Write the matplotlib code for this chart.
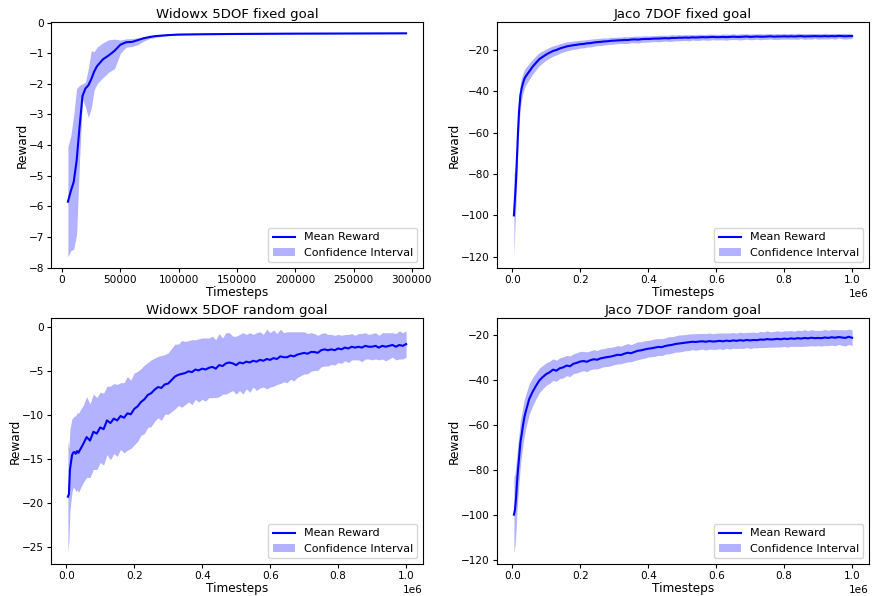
import matplotlib
matplotlib.use("Agg")
import matplotlib.pyplot as plt
import numpy as np

# ---------------- Widowx 5DOF fixed goal ----------------
wf_x = [5000, 7500, 10000, 12500, 15000, 17500, 20000, 22500, 25000, 27500,
        30000, 35000, 40000, 45000, 50000, 55000, 60000, 65000, 70000, 75000,
        80000, 90000, 100000, 120000, 150000, 200000, 250000, 295000]
wf_mean = [-5.85, -5.5, -5.2, -4.5, -3.4, -2.4, -2.15, -2.05, -1.85, -1.6,
           -1.42, -1.2, -1.07, -0.92, -0.72, -0.64, -0.63, -0.57, -0.51, -0.47,
           -0.44, -0.41, -0.39, -0.38, -0.37, -0.36, -0.355, -0.35]
wf_upper = [-4.05, -3.7, -3.0, -2.15, -2.05, -2.0, -1.95, -1.5, -0.92, -0.95,
            -0.8, -0.66, -0.56, -0.54, -0.57, -0.53, -0.52, -0.5, -0.47, -0.44,
            -0.42, -0.4, -0.38, -0.37, -0.36, -0.355, -0.35, -0.345]
wf_lower = [-7.65, -7.45, -7.4, -6.9, -4.5, -2.5, -2.75, -3.1, -2.8, -2.2,
            -2.0, -1.8, -1.62, -1.5, -1.0, -0.8, -0.78, -0.72, -0.6, -0.52,
            -0.48, -0.43, -0.4, -0.39, -0.38, -0.365, -0.36, -0.355]

# ---------------- shared timestep grid for 1e6 runs ----------------
early_x = [5000, 8000, 11000, 14000, 17000, 20000, 24000, 28000, 32000, 36000]
grid_x = early_x + list(range(40000, 1000001, 10000))

# ---------------- Jaco 7DOF fixed goal ----------------
jf_mean = [-100, -92, -84, -72, -60, -50, -42, -38.5, -36, -34,
           -32.8, -30.5, -28.2, -26.3, -24.5, -23.4, -22.3,
           -21.4, -20.6, -20.1, -19.4, -18.9, -18.4, -18.1, -17.8, -17.6, -17.3,
           -17.2, -16.9, -16.8, -16.5, -16.3, -16.2, -16.0, -15.9, -15.7, -15.6,
           -15.5, -15.4, -15.3, -15.3, -15.1, -15.0, -15.1, -14.9, -14.8, -14.8,
           -14.7, -14.6, -14.6, -14.5, -14.4, -14.5, -14.3, -14.3, -14.2, -14.2,
           -14.1, -14.2, -14.0, -14.1, -14.0, -13.9, -14.0, -13.9, -13.8, -13.9,
           -13.9, -13.8, -13.9, -13.8, -13.7, -13.8, -13.8, -13.7, -13.6, -13.8,
           -13.7, -13.6, -13.7, -13.7, -13.6, -13.5, -13.7, -13.6, -13.6, -13.5,
           -13.6, -13.5, -13.6, -13.5, -13.4, -13.6, -13.5, -13.5, -13.4, -13.5,
           -13.5, -13.4, -13.5, -13.4, -13.5, -13.3, -13.4, -13.5, -13.4, -13.4]
jf_hw = [20, 14, 11, 9, 7.5, 6.5, 5.8, 5.2, 4.8, 4.5,
         4.2, 3.9, 3.6, 3.4, 3.1, 2.9, 2.7,
         2.6, 2.5, 2.4, 2.3, 2.2, 2.2, 2.1, 2.0, 2.0, 1.9,
         1.9, 1.8, 1.9, 1.8, 1.7, 1.8, 1.7, 1.6, 1.7, 1.6,
         1.6, 1.5, 1.7, 1.6, 1.5, 1.6, 1.7, 1.5, 1.6, 1.5,
         1.5, 1.4, 1.6, 1.5, 1.4, 1.5, 1.6, 1.4, 1.5, 1.4,
         1.4, 1.5, 1.3, 1.4, 1.5, 1.3, 1.4, 1.5, 1.3, 1.4,
         1.3, 1.4, 1.5, 1.3, 1.4, 1.3, 1.5, 1.4, 1.3, 1.4,
         1.4, 1.3, 1.5, 1.3, 1.4, 1.3, 1.4, 1.5, 1.3, 1.4,
         1.3, 1.4, 1.3, 1.5, 1.2, 1.4, 1.3, 1.4, 1.2, 1.4,
         1.3, 1.4, 1.3, 1.2, 1.4, 1.1, 1.3, 1.4, 1.3, 1.2]

# ---------------- Widowx 5DOF random goal ----------------
wr_mean = [-19.3, -19.0, -16.2, -15.4, -14.6, -14.3, -14.2, -14.4, -14.1, -14.3,
           -14.0, -13.3, -12.5, -12.9, -11.9, -12.1, -11.4,
           -11.6, -10.6, -10.9, -10.4, -10.6, -10.1, -10.3, -9.8, -9.9, -9.3,
           -9.0, -8.5, -8.2, -7.7, -7.5, -7.1, -6.8, -6.9, -6.5, -6.4,
           -6.0, -5.6, -5.4, -5.3, -5.2, -5.0, -5.1, -4.8, -4.9, -4.7,
           -4.8, -4.6, -4.5, -4.7, -4.3, -4.4, -4.1, -4.0, -4.1, -4.3,
           -4.0, -4.1, -3.9, -4.0, -3.8, -3.9, -3.7, -3.8, -3.6, -3.7,
           -3.5, -3.6, -3.3, -3.4, -3.4, -3.2, -3.3, -3.1, -3.0, -2.9,
           -3.0, -2.8, -2.8, -2.9, -2.6, -2.5, -2.6, -2.5, -2.6, -2.4,
           -2.5, -2.3, -2.4, -2.2, -2.3, -2.2, -2.3, -2.1, -2.2, -2.2,
           -2.1, -2.3, -2.1, -2.2, -2.1, -2.0, -2.2, -2.0, -2.1, -1.9]
wr_hw = [6.4, 5.2, 4.6, 4.4, 4.2, 4.0, 4.1, 4.3, 4.4, 4.5,
         4.5, 4.4, 4.6, 4.2, 4.3, 4.1, 4.0,
         4.1, 3.9, 4.2, 4.0, 4.1, 3.8, 4.0, 4.2, 3.9, 4.1,
         4.0, 3.8, 3.9, 3.7, 3.8, 3.6, 3.5, 3.7, 3.4, 3.5,
         3.6, 3.7, 3.5, 3.8, 3.6, 3.5, 3.7, 3.4, 3.6, 3.5,
         3.6, 3.4, 3.5, 3.3, 3.6, 3.2, 3.5, 3.4, 3.1, 3.3,
         3.2, 3.5, 3.1, 3.4, 3.0, 3.3, 3.2, 3.0, 3.4, 3.1,
         3.2, 2.9, 3.1, 2.8, 2.9, 2.7, 2.8, 2.6, 2.5, 2.4,
         2.3, 2.2, 2.1, 2.0, 1.9, 1.9, 1.8, 1.7, 1.7, 1.6,
         1.6, 1.5, 1.6, 1.5, 1.4, 1.5, 1.6, 1.5, 1.4, 1.5,
         1.5, 1.4, 1.5, 1.6, 1.5, 1.4, 1.5, 1.6, 1.5, 1.5]

# ---------------- Jaco 7DOF random goal ----------------
jr_mean = [-100, -98, -93, -86, -80, -75, -68, -64, -60, -56.5,
           -54, -48.5, -45.3, -42.6, -40.2, -38.7, -37.4,
           -36.6, -35.4, -35.9, -34.8, -34.4, -33.6, -33.9, -32.8, -32.4, -31.8,
           -31.6, -31.9, -31.2, -30.8, -31.0, -30.4, -30.1, -29.8, -29.6, -29.2,
           -28.8, -28.9, -28.3, -27.9, -28.1, -27.5, -27.0, -26.8, -26.4, -26.1,
           -25.9, -25.6, -25.3, -25.4, -24.9, -24.6, -24.4, -24.0, -23.8, -23.6,
           -23.4, -23.2, -23.0, -23.1, -22.9, -22.8, -23.0, -22.7, -22.9, -22.8,
           -22.6, -22.8, -22.5, -22.7, -22.4, -22.6, -22.3, -22.5, -22.2, -22.4,
           -22.2, -22.3, -22.0, -22.1, -21.8, -22.0, -21.9, -21.7, -21.9, -21.6,
           -21.8, -21.5, -21.7, -21.4, -21.6, -21.3, -21.5, -21.2, -21.4, -21.3,
           -21.4, -21.1, -21.3, -21.0, -21.2, -20.9, -21.1, -21.3, -20.8, -21.2]
jr_hw = [17, 16, 15, 13, 12, 11, 10, 9, 8.5, 8,
         7.5, 6.8, 6.3, 5.8, 5.5, 5.2, 5.0,
         4.9, 4.8, 4.7, 4.6, 4.7, 4.5, 4.6, 4.4, 4.5, 4.5,
         4.3, 4.4, 4.2, 4.3, 4.1, 4.2, 4.0, 4.2, 4.1, 4.0,
         4.1, 3.9, 4.0, 4.1, 3.8, 3.9, 4.0, 3.8, 3.9, 3.7,
         3.8, 3.9, 3.7, 3.8, 3.6, 3.8, 3.7, 3.6, 3.8, 3.7,
         3.6, 3.7, 3.5, 3.7, 3.6, 3.5, 3.7, 3.6, 3.5, 3.6,
         3.5, 3.7, 3.4, 3.6, 3.5, 3.4, 3.6, 3.5, 3.4, 3.6,
         3.5, 3.4, 3.6, 3.5, 3.7, 3.4, 3.5, 3.6, 3.4, 3.5,
         3.6, 3.5, 3.4, 3.6, 3.5, 3.7, 3.4, 3.6, 3.5, 3.4,
         3.5, 3.6, 3.4, 3.5, 3.6, 3.3, 3.5, 3.6, 3.4, 3.5]

titles = ["Widowx 5DOF fixed goal", "Jaco 7DOF fixed goal",
          "Widowx 5DOF random goal", "Jaco 7DOF random goal"]

TITLE_FS = 9.5
LABEL_FS = 8.7
TICK_FS = 7.6
LEG_FS = 8.0

fig = plt.figure(figsize=(8.72, 5.96), dpi=100)
W, H = 872, 596
boxes = [(51, 22), (497, 22), (51, 318), (497, 318)]
aw, ah = 372, 246

def make_ax(left, top):
    return fig.add_axes([left / W, (H - top - ah) / H, aw / W, ah / H])

def draw(ax, x, mean, lower, upper, title):
    ax.plot(x, mean, color="blue", lw=1.5, label="Mean Reward")
    ax.fill_between(x, lower, upper, color="blue", alpha=0.3, lw=0,
                    label="Confidence Interval")
    ax.set_title(title, fontsize=TITLE_FS, pad=3)
    ax.set_xlabel("Timesteps", fontsize=LABEL_FS, labelpad=1)
    ax.set_ylabel("Reward", fontsize=LABEL_FS, labelpad=0)
    ax.tick_params(labelsize=TICK_FS, length=3, pad=2)
    ax.xaxis.get_offset_text().set_fontsize(TICK_FS)
    ax.legend(loc="lower right", fontsize=LEG_FS, framealpha=0.8)

ax1 = make_ax(*boxes[0])
draw(ax1, wf_x, wf_mean, wf_lower, wf_upper, titles[0])
ax1.set_xticks([0, 50000, 100000, 150000, 200000, 250000, 300000])
ax1.ticklabel_format(axis="x", style="plain")

gx = np.array(grid_x)

ax2 = make_ax(*boxes[1])
m = np.array(jf_mean); h = np.array(jf_hw)
draw(ax2, gx, m, m - h, m + h, titles[1])

ax3 = make_ax(*boxes[2])
m = np.array(wr_mean); h = np.array(wr_hw)
draw(ax3, gx, m, m - h, m + h, titles[2])

ax4 = make_ax(*boxes[3])
m = np.array(jr_mean); h = np.array(jr_hw)
draw(ax4, gx, m, m - h, m + h, titles[3])

fig.savefig("out.png", dpi=100)
